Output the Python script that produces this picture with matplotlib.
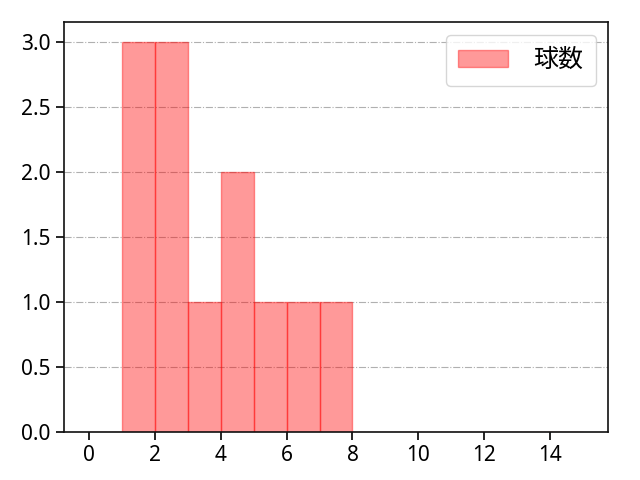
import numpy as np
import matplotlib
matplotlib.use("Agg")
import matplotlib.pyplot as plt

plt.rcParams['font.family'] = ['Noto Sans CJK JP', 'DejaVu Sans']

# bin edges and counts (width 1, 0..15)
bin_edges = list(range(0, 16))
counts = [0, 3, 3, 1, 2, 1, 1, 1, 0, 0, 0, 0, 0, 0, 0]
label = "球数"

fig = plt.figure(figsize=(6.4, 4.8), dpi=100)
ax = fig.add_axes([0.1, 0.1, 0.85, 0.854])

ax.bar(bin_edges[:-1], counts, width=1, align="edge",
       color="red", alpha=0.4, edgecolor="red", linewidth=1, label=label)

ax.grid(axis="y", linestyle="-.", color="#b0b0b0")
ax.set_axisbelow(True)
ax.set_xticks(range(0, 16, 2))
ax.tick_params(labelsize=15, width=1.2, length=6)
for t in ax.get_xticklabels() + ax.get_yticklabels():
    t.set_family("Noto Sans")
for s in ax.spines.values():
    s.set_linewidth(1.2)
    s.set_color("#111111")
ax.legend(loc="upper right", fontsize=18, borderpad=0.5, handletextpad=1.0)

fig.savefig("out.png", dpi=100)
